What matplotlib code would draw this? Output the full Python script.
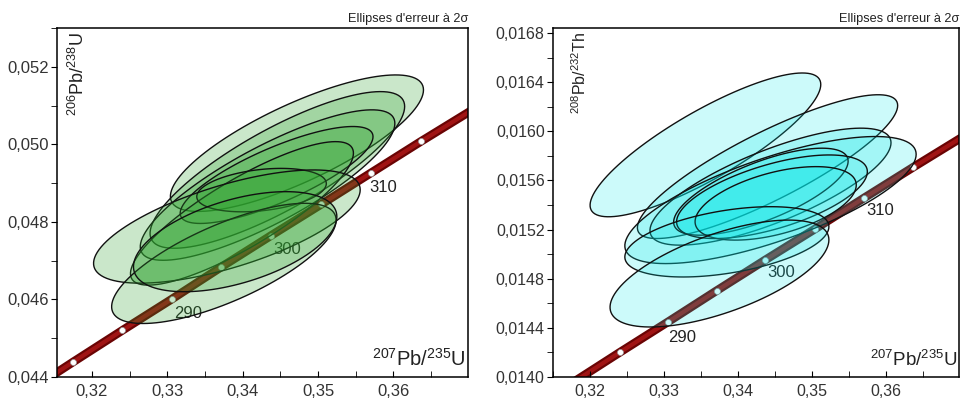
"""
Concordia diagrams (U-Pb and Th-Pb) with 2-sigma error ellipses.
"""

import matplotlib
matplotlib.use("Agg")
import matplotlib.pyplot as plt
import numpy as np
from matplotlib.patches import Polygon
from matplotlib.ticker import FuncFormatter, MultipleLocator

plt.rcParams["font.family"] = "Liberation Sans"
plt.rcParams["mathtext.fontset"] = "custom"
plt.rcParams["mathtext.rm"] = "Liberation Sans"
plt.rcParams["mathtext.default"] = "regular"

# Concordia curve points (age in Ma)
ages = [275, 280, 285, 290, 295, 300, 305, 310, 315, 320]
conc_207_235 = [0.3111, 0.3175, 0.3240, 0.3306, 0.3371, 0.3437, 0.3504, 0.3570, 0.3637, 0.3705]
conc_206_238 = [0.04358, 0.04439, 0.04520, 0.04601, 0.04683, 0.04764, 0.04845, 0.04926, 0.05008, 0.05089]
conc_208_232 = [0.013699, 0.013949, 0.014200, 0.014451, 0.014702, 0.014953, 0.015204, 0.015455, 0.015707, 0.015958]

# Age labels along the curve
label_ages = ["290", "300", "310"]
u_label_x = [0.3327, 0.3459, 0.3587]
u_label_y = [0.04565, 0.04728, 0.04888]
th_label_x = [0.3324, 0.3458, 0.3593]
th_label_y = [0.014325, 0.014847, 0.015359]

# 206Pb/238U vs 207Pb/235U ellipses: centre, 2-sigma half widths, correlation
u_x = [0.3472, 0.3446, 0.3433, 0.3445, 0.3399, 0.3425, 0.3379, 0.3375, 0.3390]
u_y = [0.05003, 0.04934, 0.04895, 0.04921, 0.04822, 0.04882, 0.04788, 0.04693, 0.04749]
u_sx = [0.0168, 0.0169, 0.0169, 0.0128, 0.0148, 0.0086, 0.0177, 0.0149, 0.0135]
u_sy = [0.00176, 0.00202, 0.00194, 0.00125, 0.00185, 0.00056, 0.00146, 0.00155, 0.00129]
u_rho = [0.78, 0.81, 0.82, 0.79, 0.84, 0.30, 0.65, 0.72, 0.50]

# 208Pb/232Th vs 207Pb/235U ellipses
th_x = [0.3356, 0.3440, 0.3444, 0.3444, 0.3431, 0.3446, 0.3451, 0.3385, 0.3375]
th_y = [0.015889, 0.015712, 0.015549, 0.015440, 0.015508, 0.015467, 0.015413, 0.015100, 0.014842]
th_sx = [0.0156, 0.0176, 0.0163, 0.0197, 0.0118, 0.0129, 0.0109, 0.0138, 0.0148]
th_sy = [0.000585, 0.000585, 0.000476, 0.000517, 0.000354, 0.000340, 0.000299, 0.000286, 0.000435]
th_rho = [0.84, 0.85, 0.75, 0.72, 0.70, 0.60, 0.50, 0.43, 0.63]


def ellipse_points(cx, cy, sx, sy, rho, n=120):
    # Outline of a correlated error ellipse.
    t = np.linspace(0, 2 * np.pi, n)
    xs = cx + sx * np.cos(t)
    ys = cy + sy * (rho * np.cos(t) + np.sqrt(1 - rho ** 2) * np.sin(t))
    return np.column_stack([xs, ys])


def comma_fmt(decimals):
    return FuncFormatter(lambda v, pos: f"{v:.{decimals}f}".replace(".", ","))


def draw_panel(ax, conc_y, lab_x, lab_y, ex, ey, esx, esy, erho, fill, xlim, ylim,
               ystep, ydec, ylabel, ylabel_x, ylabel_size, xlabel_size, tick_size):
    ax.set_xlim(*xlim)
    ax.set_ylim(*ylim)

    # Concordia band with age markers
    ax.plot(conc_207_235, conc_y, color="#6a0404", linewidth=6.2, solid_capstyle="butt", zorder=1)
    ax.plot(conc_207_235, conc_y, color="#a01414", linewidth=3.0, solid_capstyle="butt", zorder=1.1)
    ax.plot(conc_207_235[1:-1], conc_y[1:-1], linestyle="none", marker="o", markersize=4.3,
            markerfacecolor="white", markeredgecolor="#999999", markeredgewidth=0.5, zorder=1.2)
    for text, lx, ly in zip(label_ages, lab_x, lab_y):
        ax.text(lx, ly, text, fontsize=12, ha="center", va="center", color="#222222", zorder=1.3)

    for cx, cy, sx, sy, rho in zip(ex, ey, esx, esy, erho):
        patch = Polygon(ellipse_points(cx, cy, sx, sy, rho), closed=True,
                        facecolor=fill, edgecolor="#111111", linewidth=1.0, zorder=3)
        ax.add_patch(patch)

    ax.xaxis.set_major_locator(MultipleLocator(0.01))
    ax.xaxis.set_minor_locator(MultipleLocator(0.005))
    ax.yaxis.set_major_locator(MultipleLocator(ystep))
    ax.yaxis.set_minor_locator(MultipleLocator(ystep / 2))
    ax.xaxis.set_major_formatter(comma_fmt(2))
    ax.yaxis.set_major_formatter(comma_fmt(ydec))
    ax.tick_params(axis="x", which="both", direction="in", length=4, pad=5,
                   labelsize=tick_size, labelcolor="#333333")
    ax.tick_params(axis="y", which="both", direction="out", length=4, pad=2,
                   labelsize=tick_size, labelcolor="#333333")
    for spine in ax.spines.values():
        spine.set_linewidth(1.1)
        spine.set_zorder(5)

    ax.text(ylabel_x, 0.988, ylabel, transform=ax.transAxes, rotation=90,
            ha="center", va="top", fontsize=ylabel_size, color="#222222", zorder=6)
    ax.text(0.995, 0.02, r"$^{207}$Pb/$^{235}$U", transform=ax.transAxes,
            ha="right", va="bottom", fontsize=xlabel_size, color="#222222", zorder=6)
    ax.text(1.0, 1.01, "Ellipses d'erreur à 2σ", transform=ax.transAxes,
            ha="right", va="bottom", fontsize=9.2, color="#222222")


def main() -> None:
    fig = plt.figure(figsize=(9.6, 3.99), dpi=100)
    ax_u = fig.add_axes([0.0594, 0.0551, 0.4281, 0.8747])
    ax_th = fig.add_axes([0.576, 0.0551, 0.423, 0.8747])

    draw_panel(ax_u, conc_206_238, u_label_x, u_label_y, u_x, u_y, u_sx, u_sy, u_rho,
               (0.18, 0.64, 0.18, 0.25), (0.31535, 0.36991), (0.044, 0.053),
               0.002, 3, r"$^{206}$Pb/$^{238}$U", 0.051, 13, 14.5, 12)
    draw_panel(ax_th, conc_208_232, th_label_x, th_label_y, th_x, th_y, th_sx, th_sy, th_rho,
               (0.0, 0.90, 0.90, 0.2), (0.31498, 0.3699), (0.0140, 0.01684),
               0.0004, 4, r"$^{208}$Pb/$^{232}$Th", 0.066, 11.5, 13.5, 11.5)

    fig.savefig("out.png", dpi=100)
    plt.close(fig)


if __name__ == "__main__":
    main()
